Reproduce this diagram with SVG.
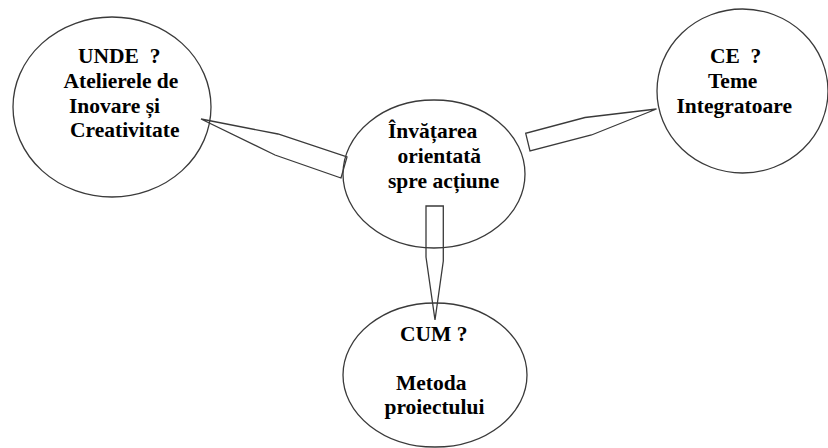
<svg xmlns="http://www.w3.org/2000/svg" width="828" height="448" viewBox="0 0 828 448">
<style>
.node{fill:none;stroke:#3a3a3a;stroke-width:1.3}
.conn{fill:none;stroke:#3a3a3a;stroke-width:1.3;stroke-linejoin:miter}
</style>
<rect width="828" height="448" fill="#fff"/>
<g id="node-unde">
<ellipse class="node" cx="112" cy="107" rx="99" ry="90"/>
<text x="78" y="63" font-family="Liberation Serif" font-weight="bold" font-size="21.5" xml:space="preserve">UNDE  ?</text>
<text x="63.5" y="88" font-family="Liberation Serif" font-weight="bold" font-size="21.5">Atelierele de</text>
<text x="69" y="112.5" font-family="Liberation Serif" font-weight="bold" font-size="21.5">Inovare și</text>
<text x="70" y="137" font-family="Liberation Serif" font-weight="bold" font-size="21.5">Creativitate</text>
</g>
<g id="node-center">
<ellipse class="node" cx="434" cy="174" rx="91" ry="74"/>
<text x="388" y="138" font-family="Liberation Serif" font-weight="bold" font-size="21.5">Învățarea</text>
<text x="397.5" y="163" font-family="Liberation Serif" font-weight="bold" font-size="21.5">orientată</text>
<text x="388" y="188" font-family="Liberation Serif" font-weight="bold" font-size="21.5">spre acțiune</text>
</g>
<g id="node-ce">
<ellipse class="node" cx="742.5" cy="91" rx="85.5" ry="82"/>
<text x="710" y="63" font-family="Liberation Serif" font-weight="bold" font-size="21.5" xml:space="preserve">CE  ?</text>
<text x="708" y="87.5" font-family="Liberation Serif" font-weight="bold" font-size="21.5">Teme</text>
<text x="676.5" y="113" font-family="Liberation Serif" font-weight="bold" font-size="21.5">Integratoare</text>
</g>
<g id="node-cum">
<ellipse class="node" cx="435" cy="375" rx="92" ry="72"/>
<text x="400" y="341" font-family="Liberation Serif" font-weight="bold" font-size="21.5">CUM ?</text>
<text x="396" y="390" font-family="Liberation Serif" font-weight="bold" font-size="21.5">Metoda</text>
<text x="384.5" y="413.5" font-family="Liberation Serif" font-weight="bold" font-size="21.5">proiectului</text>
</g>
<g id="connectors">
<polygon class="conn" points="201,119 278,134 347,157 341,178 275,155"/>
<polygon class="conn" points="656.5,109 585,117.5 525.7,133.3 530,151 591.5,135"/>
<polygon class="conn" points="426,206 443.3,206 443.3,261 435,320 426,257"/>
</g>
</svg>
